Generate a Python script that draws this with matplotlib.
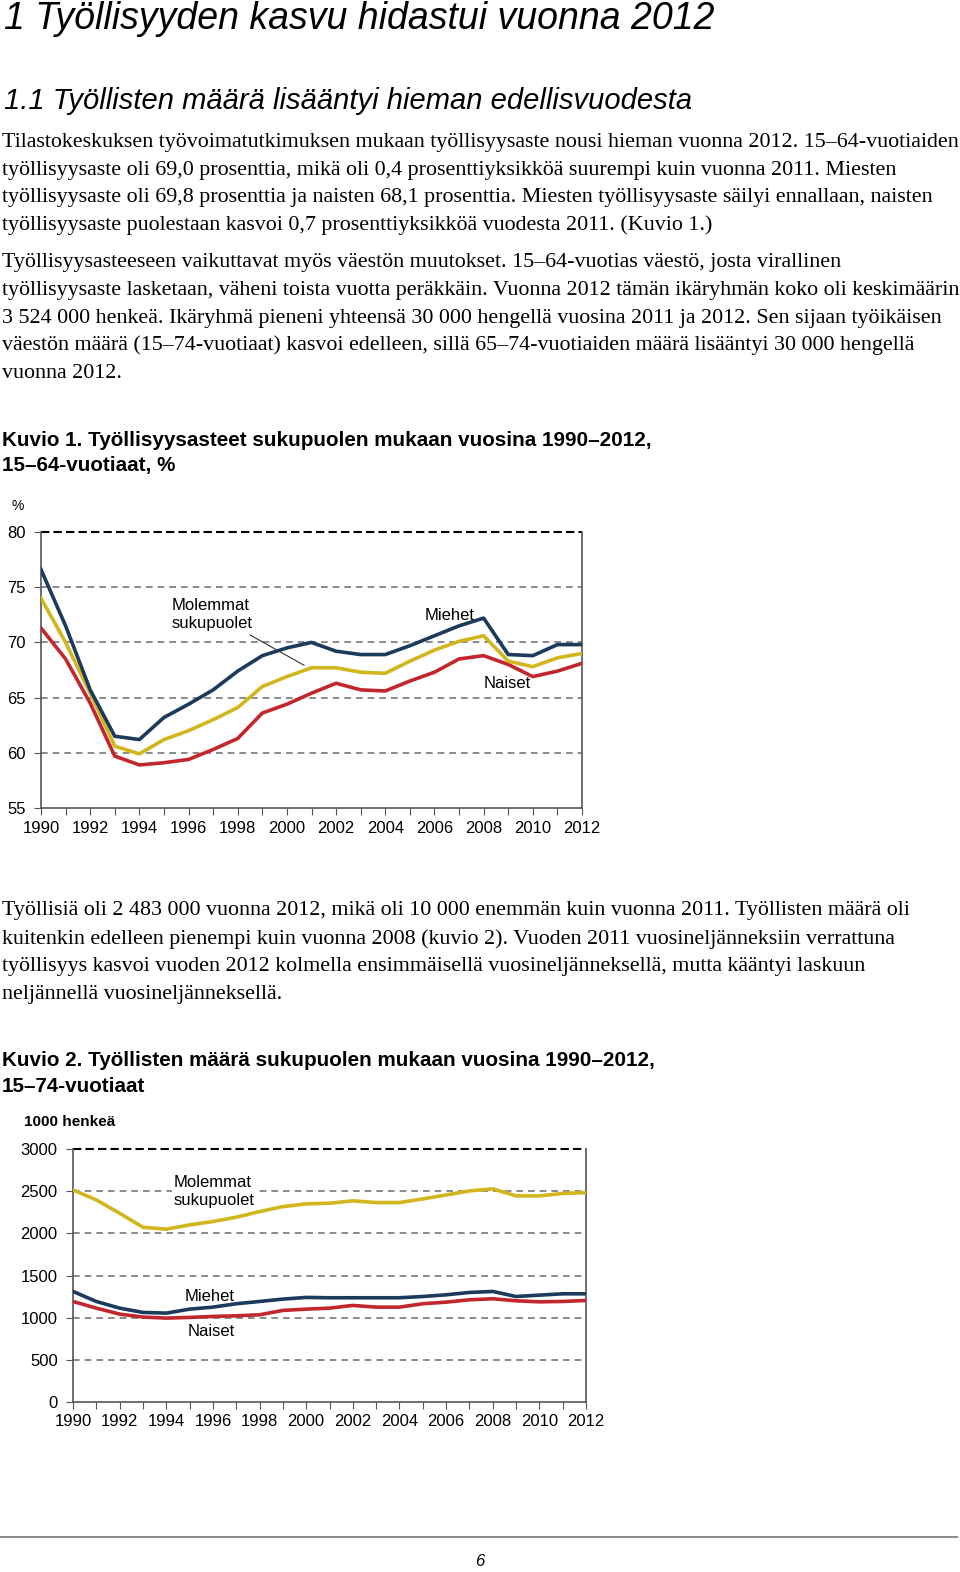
import numpy as np
import matplotlib
matplotlib.use("Agg")
import matplotlib.pyplot as plt

# data
years = list(range(1990, 2013))

# Kuvio 1: employment rate, 15-64, %
rate_men = [76.6, 71.5, 65.7, 61.5, 61.2, 63.2, 64.4, 65.7, 67.4, 68.8, 69.5, 70.0,
            69.2, 68.9, 68.9, 69.7, 70.6, 71.5, 72.2, 68.9, 68.8, 69.8, 69.8]
rate_both = [74.0, 70.0, 65.4, 60.6, 59.9, 61.2, 62.0, 63.0, 64.1, 66.0, 66.9, 67.7,
             67.7, 67.3, 67.2, 68.3, 69.3, 70.1, 70.6, 68.3, 67.8, 68.6, 69.0]
rate_women = [71.3, 68.5, 64.5, 59.7, 58.9, 59.1, 59.4, 60.3, 61.3, 63.6, 64.4, 65.4,
              66.3, 65.7, 65.6, 66.5, 67.3, 68.5, 68.8, 68.0, 66.9, 67.4, 68.1]

# Kuvio 2: employed persons, 15-74, 1000 persons
emp_both = [2515, 2396, 2238, 2072, 2049, 2100, 2140, 2191, 2258, 2317, 2349, 2357,
            2385, 2365, 2365, 2408, 2455, 2503, 2527, 2444, 2444, 2473, 2483]
emp_men = [1311, 1192, 1113, 1062, 1054, 1101, 1125, 1165, 1192, 1220, 1240, 1236,
           1236, 1236, 1236, 1251, 1271, 1299, 1311, 1251, 1267, 1283, 1283]
emp_women = [1192, 1113, 1042, 1007, 995, 1003, 1015, 1022, 1034, 1086, 1101, 1113,
             1145, 1125, 1125, 1165, 1184, 1212, 1224, 1200, 1188, 1192, 1204]

title = "1 Työllisyyden kasvu hidastui vuonna 2012"
subtitle = "1.1 Työllisten määrä lisääntyi hieman edellisvuodesta"
para1 = ["Tilastokeskuksen työvoimatutkimuksen mukaan työllisyysaste nousi hieman vuonna 2012. 15–64-vuotiaiden",
         "työllisyysaste oli 69,0 prosenttia, mikä oli 0,4 prosenttiyksikköä suurempi kuin vuonna 2011. Miesten",
         "työllisyysaste oli 69,8 prosenttia ja naisten 68,1 prosenttia. Miesten työllisyysaste säilyi ennallaan, naisten",
         "työllisyysaste puolestaan kasvoi 0,7 prosenttiyksikköä vuodesta 2011. (Kuvio 1.)"]
para2 = ["Työllisyysasteeseen vaikuttavat myös väestön muutokset. 15–64-vuotias väestö, josta virallinen",
         "työllisyysaste lasketaan, väheni toista vuotta peräkkäin. Vuonna 2012 tämän ikäryhmän koko oli keskimäärin",
         "3 524 000 henkeä. Ikäryhmä pieneni yhteensä 30 000 hengellä vuosina 2011 ja 2012. Sen sijaan työikäisen",
         "väestön määrä (15–74-vuotiaat) kasvoi edelleen, sillä 65–74-vuotiaiden määrä lisääntyi 30 000 hengellä",
         "vuonna 2012."]
para3 = ["Työllisiä oli 2 483 000 vuonna 2012, mikä oli 10 000 enemmän kuin vuonna 2011. Työllisten määrä oli",
         "kuitenkin edelleen pienempi kuin vuonna 2008 (kuvio 2). Vuoden 2011 vuosineljänneksiin verrattuna",
         "työllisyys kasvoi vuoden 2012 kolmella ensimmäisellä vuosineljänneksellä, mutta kääntyi laskuun",
         "neljännellä vuosineljänneksellä."]
cap1 = ["Kuvio 1. Työllisyysasteet sukupuolen mukaan vuosina 1990–2012,", "15–64-vuotiaat, %"]
cap2 = ["Kuvio 2. Työllisten määrä sukupuolen mukaan vuosina 1990–2012,", "15–74-vuotiaat"]

W, H = 960, 1572
BLUE = "#1b3a5c"
YELLOW = "#d2b61e"
RED = "#c1272d"
SERIF = ["Liberation Serif", "DejaVu Serif"]
SANS = ["Liberation Sans", "DejaVu Sans"]
NARROW = ["Liberation Sans Narrow", "Liberation Sans", "DejaVu Sans"]

fig = plt.figure(figsize=(W / 100, H / 100), dpi=100)


def ty(y):
    return 1 - y / H


def put(x, y, s, **kw):
    fig.text(x / W, ty(y), s, va="center", ha="left", **kw)


def axes_px(l, t, r, b):
    return fig.add_axes([l / W, 1 - b / H, (r - l) / W, (b - t) / H])


# page text
put(4, 19, title, fontsize=27, style="italic", family=SANS)
put(4, 101, subtitle, fontsize=21, style="italic", family=SANS)
for i, s in enumerate(para1):
    put(2, 143 + i * 27.4, s, fontsize=15.85, family=SERIF)
for i, s in enumerate(para2):
    put(2, 263 + i * 27.5, s, fontsize=15.85, family=SERIF)
for i, s in enumerate(cap1):
    put(2, 440 + i * 25, s, fontsize=14.9, weight="bold", family=NARROW)
for i, s in enumerate(para3):
    put(2, 911 + i * 27.7, s, fontsize=15.85, family=SERIF)
for i, s in enumerate(cap2):
    put(2, 1061 + i * 25, s, fontsize=14.9, weight="bold", family=NARROW)


def style_axes(ax, ymin, ymax, ystep):
    ax.set_xlim(1990, 2012)
    ax.set_ylim(ymin, ymax)
    ax.set_xticks(years)
    ax.set_xticklabels([str(y) if y % 2 == 0 else "" for y in years],
                       fontsize=12, family=NARROW)
    yt = np.arange(ymin, ymax + 1, ystep)
    ax.set_yticks(yt)
    ax.set_yticklabels([str(int(v)) for v in yt], fontsize=12, family=NARROW)
    for v in yt[1:-1]:
        ax.axhline(v, color="#777777", lw=1.2, ls=(0, (4, 3)), zorder=1)
    ax.axhline(ymax, color="black", lw=1.5, ls=(0, (4, 2)), zorder=1, clip_on=False)
    ax.spines["top"].set_visible(False)
    for sp in ["left", "right", "bottom"]:
        ax.spines[sp].set_color("#555555")
        ax.spines[sp].set_linewidth(1.2)
    ax.tick_params(axis="x", length=5, color="#555555", pad=4)
    ax.tick_params(axis="y", length=5, color="#555555", pad=6)


# Kuvio 1
ax1 = axes_px(41, 532, 582, 808)
ax1.plot(years, rate_women, color=RED, lw=2.6, zorder=3)
ax1.plot(years, rate_both, color=YELLOW, lw=2.6, zorder=4)
ax1.plot(years, rate_men, color=BLUE, lw=2.6, zorder=5)
style_axes(ax1, 55, 80, 5)
ax1.text(1995.3, 72.5, "Molemmat\nsukupuolet", fontsize=12, family=NARROW,
         linespacing=1.25, va="center", ha="left")
ax1.annotate("", xy=(2000.8, 67.8), xytext=(1998.4, 70.8),
             arrowprops=dict(arrowstyle="-", color="#333333", lw=0.8))
ax1.text(2005.6, 72.4, "Miehet", fontsize=12, family=NARROW, va="center", ha="left")
ax1.text(2008.0, 66.3, "Naiset", fontsize=12, family=NARROW, va="center", ha="left")
put(12, 506, "%", fontsize=10, family=NARROW)

# Kuvio 2
ax2 = axes_px(73, 1149, 586, 1402)
ax2.plot(years, emp_women, color=RED, lw=2.6, zorder=3)
ax2.plot(years, emp_both, color=YELLOW, lw=2.6, zorder=4)
ax2.plot(years, emp_men, color=BLUE, lw=2.6, zorder=5)
style_axes(ax2, 0, 3000, 500)
ax2.text(1994.3, 2500, "Molemmat\nsukupuolet", fontsize=12, family=NARROW,
         linespacing=1.25, va="center", ha="left", zorder=2,
         bbox=dict(facecolor="white", edgecolor="none", pad=1))
ax2.text(1994.8, 1250, "Miehet", fontsize=12, family=NARROW, va="center", ha="left")
ax2.text(1994.9, 840, "Naiset", fontsize=12, family=NARROW, va="center", ha="left")
put(24, 1122, "1000 henkeä", fontsize=11, weight="bold", family=NARROW)

# footer
fig.add_artist(plt.Line2D([0, 957 / W], [ty(1537), ty(1537)], color="#8c8c8c", lw=1.5))
fig.text(480 / W, ty(1561), "6", fontsize=12, style="italic", family=SANS,
         ha="center", va="center")

fig.savefig("out.png", dpi=100)
